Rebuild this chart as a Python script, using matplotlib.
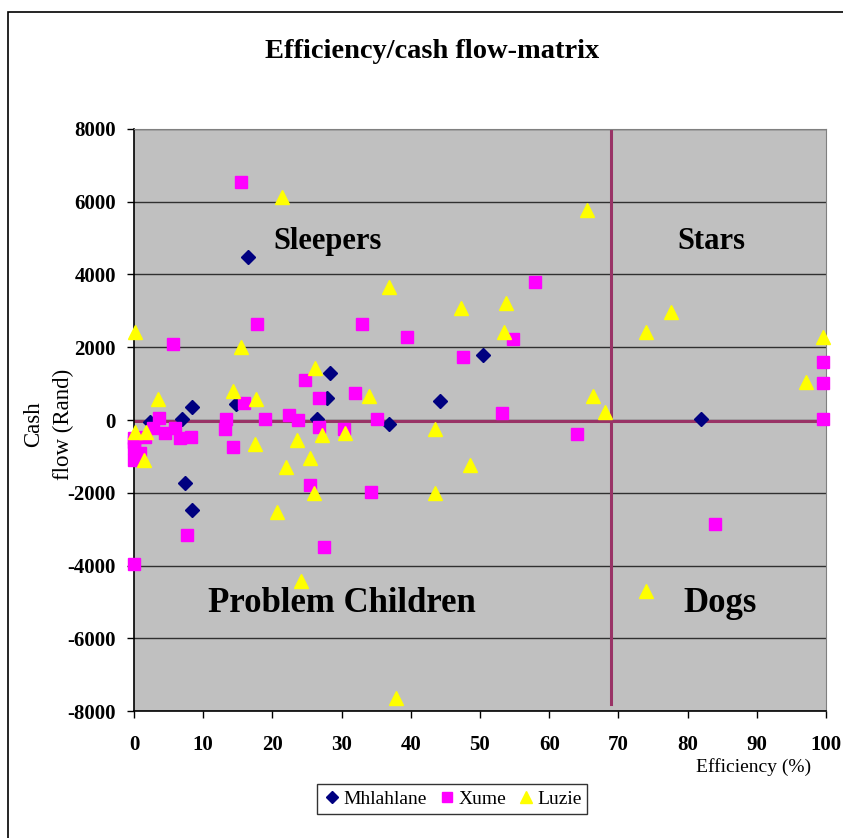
import numpy as np
import matplotlib.pyplot as plt
from matplotlib.patches import Rectangle

plt.rcParams['font.family'] = ['Liberation Serif', 'DejaVu Serif']
plt.rcParams['axes.unicode_minus'] = False

# Mhlahlane (efficiency %, cash flow Rand)
mh_x = [2.3, 6.9, 8.4, 14.7, 7.3, 8.4, 16.5, 28.3, 27.9, 26.4, 36.9, 44.2, 50.5, 82.0]
mh_y = [-45, 30, 360, 430, -1745, -2480, 4470, 1300, 600, 40, -110, 520, 1790, 20]

# Xume
xu_x = [0.0, 0.0, 0.0, 0.0, 0.9, 0.0, 1.6, 2.8, 4.5, 3.6, 5.9, 5.7, 6.6, 8.2,
        13.2, 13.3, 14.3, 15.5, 15.9, 17.8, 19.0, 22.4, 23.7, 24.7, 25.4, 26.7,
        26.8, 27.4, 30.4, 31.9, 32.9, 34.2, 35.1, 39.5, 47.5, 53.2, 54.8, 58.0,
        64.0, 84.0, 99.6, 99.6, 99.6, 7.6]
xu_y = [-505, -600, -780, -1100, -920, -3970, -460, -230, -367, 45, -230, 2100,
        -505, -460, -250, 40, -750, 6550, 480, 2650, 30, 140, 0, 1100, -1790,
        600, -180, -3500, -250, 750, 2630, -1970, 20, 2270, 1720, 200, 2220,
        3790, -385, -2865, 1590, 1010, 28, -3170]

# Luzie
lu_x = [0.1, 0.1, 1.7, 1.4, 3.4, 14.3, 15.4, 17.7, 17.5, 20.6, 21.4, 36.8, 26.2,
        33.9, 30.5, 27.1, 23.6, 25.4, 21.9, 26.0, 24.1, 37.8, 47.2, 53.8, 53.4,
        43.5, 48.6, 43.5, 65.4, 77.6, 74.0, 99.6, 97.1, 66.4, 68.0, 74.0]
lu_y = [2420, -320, -320, -1100, 580, 800, 2000, 580, -660, -2525, 6120, 3670,
        1420, 660, -370, -410, -550, -1055, -1290, -2020, -4435, -7630, 3080,
        3230, 2430, -250, -1240, -2020, 5760, 2980, 2420, 2270, 1040, 670, 230,
        -4710]

# quadrant dividers
split_x = 69
split_y = -40

fig = plt.figure(figsize=(8.43, 8.38), dpi=100)
ax = fig.add_axes([134/843, 1 - 711/838, (826 - 134)/843, (711 - 129)/838])
ax.set_facecolor('#C0C0C0')

ax.set_xlim(0, 100)
ax.set_ylim(-8000, 8000)
ax.set_xticks(np.arange(0, 101, 10))
ax.set_yticks(np.arange(-8000, 8001, 2000))
ax.yaxis.grid(True, color='#303030', lw=1)
ax.set_axisbelow(True)
ax.tick_params(direction='out', length=5, width=1, labelsize=15)
ax.tick_params(axis='y', pad=8)
ax.tick_params(axis='x', pad=12)
for lab in ax.get_xticklabels() + ax.get_yticklabels():
    lab.set_fontweight('bold')
ax.spines['top'].set_color('#808080')
ax.spines['right'].set_color('#808080')
ax.spines['left'].set_linewidth(1.2)
ax.spines['bottom'].set_linewidth(1.2)

ax.plot([0, 100], [split_y, split_y], color='#993366', lw=2.2, zorder=2)
ax.plot([split_x, split_x], [-7800, 8000], color='#993366', lw=2.2, zorder=2)

ax.plot(mh_x, mh_y, 'D', color='#000080', ms=7, ls='none', label='Mhlahlane',
        zorder=3, clip_on=False)
ax.plot(xu_x, xu_y, 's', color='#FF00FF', ms=9, ls='none', label='Xume',
        zorder=3, clip_on=False)
ax.plot(lu_x, lu_y, '^', color='#FFFF00', ms=10, ls='none', label='Luzie',
        zorder=3, clip_on=False)

ax.text(28, 4900, 'Sleepers', fontsize=22, fontweight='bold', ha='center', va='center')
ax.text(83.5, 4900, 'Stars', fontsize=22, fontweight='bold', ha='center', va='center')
ax.text(30.0, -5050, 'Problem Children', fontsize=25, fontweight='bold', ha='center', va='center')
ax.text(84.7, -5050, 'Dogs', fontsize=25, fontweight='bold', ha='center', va='center')

fig.text(432/843, 1 - 51/838, 'Efficiency/cash flow-matrix', fontsize=20.5,
         fontweight='bold', ha='center', va='center')
fig.text(49/843, 1 - 424/838, 'Cash\nflow (Rand)', fontsize=16.5, rotation=90,
         ha='center', va='center', multialignment='center', linespacing=1.55)
fig.text(754/843, 1 - 767/838, 'Efficiency (%)', fontsize=14, ha='center', va='center')

leg = fig.legend(loc='center', bbox_to_anchor=(452/843, 1 - 799/838), ncol=3,
                 frameon=True, fancybox=False, edgecolor='black', fontsize=14,
                 handletextpad=0.1, columnspacing=0.5, handlelength=1.0,
                 borderpad=0.3, markerscale=0.85)
leg.get_frame().set_linewidth(1)

fig.patches.append(Rectangle((8/843, -0.1), 1.0, 1 - 12/838 + 0.1, transform=fig.transFigure,
                             fill=False, edgecolor='black', lw=1.2))

fig.savefig('out.png', dpi=100)
